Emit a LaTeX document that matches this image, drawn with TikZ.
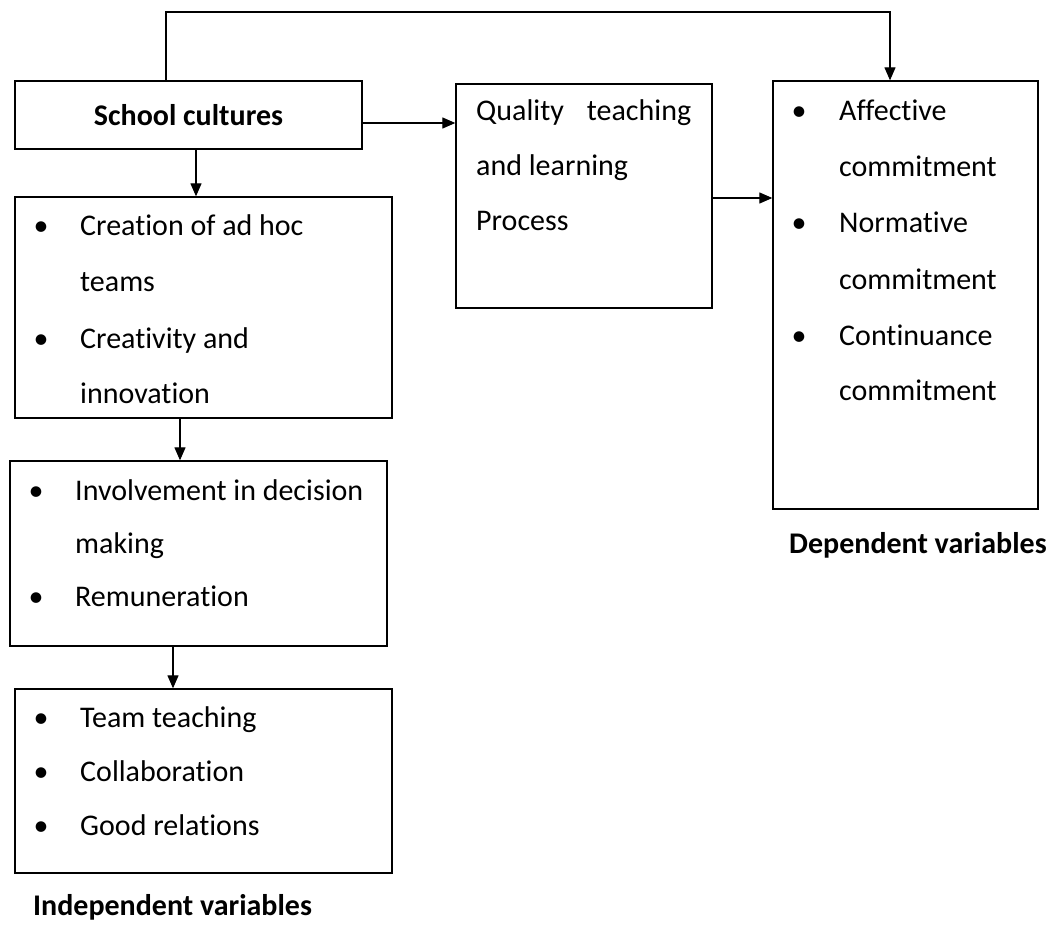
\documentclass[tikz,border=0pt]{standalone}
\usepackage{fontspec}
\setmainfont{Carlito}[Ligatures={NoCommon}]
\usetikzlibrary{arrows.meta}
\begin{document}
\begin{tikzpicture}[x=1pt,y=-1pt,
  box/.style={draw,line width=1.3pt,inner sep=0pt,anchor=center},
  arr/.style={line width=1.2pt,-{Triangle[length=13pt,width=11pt]}},
  txt/.style={font=\fontsize{30}{34}\selectfont,inner sep=0pt,anchor=base west},
  bul/.style={font=\fontsize{30}{34}\selectfont,inner sep=0pt,anchor=base},
  lbl/.style={font=\fontsize{30}{34}\selectfont\bfseries,inner sep=0pt,anchor=base west}]
\useasboundingbox (0,0) rectangle (1055,952);
% boxes
\node[box,minimum width=347pt,minimum height=68pt,font=\fontsize{30}{34}\selectfont\bfseries] (sc) at (188.5,115) {School cultures};
\node[box,minimum width=256pt,minimum height=224pt] (q) at (584,196) {};
\node[box,minimum width=265pt,minimum height=428pt] (d) at (905.5,295) {};
\node[box,minimum width=377pt,minimum height=221pt] (b1) at (203.5,307.5) {};
\node[box,minimum width=377pt,minimum height=185pt] (b2) at (198.5,553.5) {};
\node[box,minimum width=377pt,minimum height=184pt] (b3) at (203.5,781) {};
% quality text
\node[txt] (q1) at (476,121) {\makebox[215pt][s]{Quality teaching}};
\node[txt] (q2) at (476,176) {and learning};
\node[txt] (q3) at (476,231) {Process};
% dependent box
\node[bul] (db1) at (799,121) {•};
\node[txt] (d1) at (839,121) {Affective};
\node[txt] (d2) at (839,177) {commitment};
\node[bul] (db2) at (799,233) {•};
\node[txt] (d3) at (839,233) {Normative};
\node[txt] (d4) at (839,289) {commitment};
\node[bul] (db3) at (799,345) {•};
\node[txt] (d5) at (839,345) {Continuance};
\node[txt] (d6) at (839,400) {commitment};
% box 1
\node[bul] (b1b1) at (41,236) {•};
\node[txt] (b1t1) at (80,236) {Creation of ad hoc};
\node[txt] (b1t2) at (80,291) {teams};
\node[bul] (b1b2) at (41,348) {•};
\node[txt] (b1t3) at (80,348) {Creativity and};
\node[txt] (b1t4) at (80,403) {innovation};
% box 2
\node[bul] (b2b1) at (36,500) {•};
\node[txt] (b2t1) at (75,500) {Involvement in decision};
\node[txt] (b2t2) at (75,553) {making};
\node[bul] (b2b2) at (36,606) {•};
\node[txt] (b2t3) at (75,606) {Remuneration};
% box 3
\node[bul] (b3b1) at (41,727) {•};
\node[txt] (b3t1) at (80,727) {Team teaching};
\node[bul] (b3b2) at (41,781) {•};
\node[txt] (b3t2) at (80,781) {Collaboration};
\node[bul] (b3b3) at (41,835) {•};
\node[txt] (b3t3) at (80,835) {Good relations};
% labels
\node[lbl] (dep) at (789,553) {Dependent variables};
\node[lbl] (ind) at (33,915) {Independent variables};
% connectors
\coordinate (t1) at (166,12);
\coordinate (t2) at (890,12);
\coordinate (ya) at (0,123);
\coordinate (yb) at (0,198);
\coordinate (xa) at (196,0);
\coordinate (xb) at (180,0);
\coordinate (xc) at (173,0);
\draw[arr] (sc.north -| t1) -- (t1) -- (t2) -- (d.north -| t2);
\draw[arr] (sc.east |- ya) -- (q.west |- ya);
\draw[arr] (q.east |- yb) -- (d.west |- yb);
\draw[arr] (sc.south -| xa) -- (b1.north -| xa);
\draw[arr] (b1.south -| xb) -- (b2.north -| xb);
\draw[arr] (b2.south -| xc) -- (b3.north -| xc);
\end{tikzpicture}
\end{document}
